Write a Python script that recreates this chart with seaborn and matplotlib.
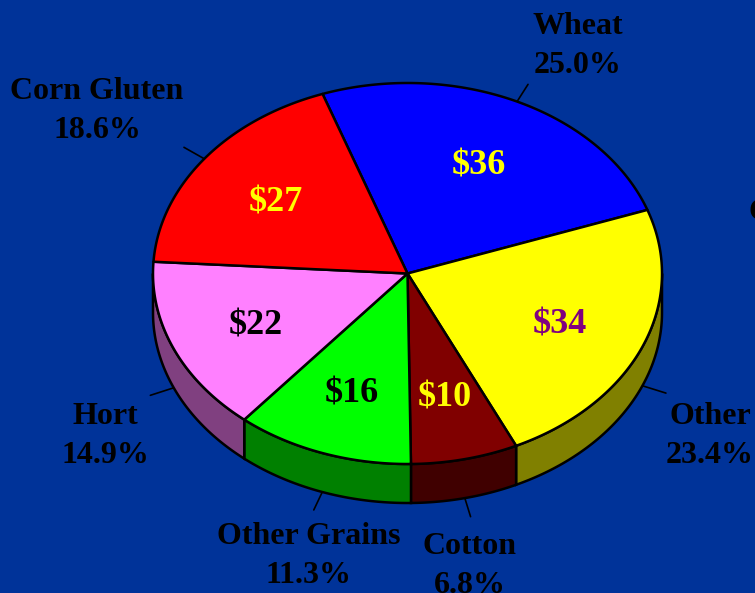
import numpy as np
import matplotlib
matplotlib.use("Agg")
import matplotlib.pyplot as plt
import seaborn as sns

# === Data ===
categories = ["Wheat", "Other", "Cotton", "Other Grains", "Hort", "Corn Gluten"]
percents = [25.0, 23.4, 6.8, 11.3, 14.9, 18.6]
dollars = [36, 34, 10, 16, 22, 27]

top_colors = ["#0000FF", "#FFFF00", "#800000", "#00FF00", "#FF80FF", "#FF0000"]
side_colors = ["#000080", "#808000", "#400000", "#008000", "#804080", "#800000"]
value_colors = ["#FFFF00", "#800080", "#FFFF00", "#000000", "#000000", "#FFFF00"]

# label block centres (pixels)
label_pos = [(578, 46), (710, 436), (470, 566), (309, 556), (105, 436), (97, 111)]

sns.set_theme(style="white")
plt.rcParams["font.family"] = ["Liberation Serif", "DejaVu Serif"]

BG = "#003399"
cx, cy = 407.5, 273.5      # centre of top face
ra, rb = 254.5, 190.5      # ellipse radii
depth = 39
start = 109.5              # angle where the first slice starts

def pt(t, k=1.0, dz=0.0):
    r = np.radians(t)
    return cx + k * ra * np.cos(r), cy - k * rb * np.sin(r) + dz

fig = plt.figure(figsize=(7.55, 5.93), dpi=100, facecolor=BG)
ax = fig.add_axes([0, 0, 1, 1])
ax.set_facecolor(BG)
ax.set_xlim(0, 755)
ax.set_ylim(593, 0)
ax.axis("off")

# slice angles (clockwise)
bounds = [start]
for p in percents:
    bounds.append(bounds[-1] - p * 3.6)

# side walls (front half only)
for i in range(len(percents)):
    hi, lo = bounds[i], bounds[i + 1]
    for shift in (0, 360):
        h = min(hi + shift, 0)
        l = max(lo + shift, -180)
        if h <= l:
            continue
        ts = np.linspace(h, l, 80)
        xs, ys = pt(ts)
        xb, yb = pt(ts[::-1], dz=depth)
        ax.fill(np.r_[xs, xb], np.r_[ys, yb], facecolor=side_colors[i],
                edgecolor="black", lw=1.8, zorder=1)

# top faces
for i in range(len(percents)):
    ts = np.linspace(bounds[i], bounds[i + 1], 120)
    xs, ys = pt(ts)
    ax.fill(np.r_[cx, xs], np.r_[cy, ys], facecolor=top_colors[i],
            edgecolor="black", lw=1.8, zorder=2, joinstyle="round")

# value labels and outer labels
for i, name in enumerate(categories):
    mid = (bounds[i] + bounds[i + 1]) / 2
    x, y = pt(mid, 0.65)
    ax.text(x, y + 4, f"${dollars[i]}", ha="center", va="center", fontsize=26,
            fontweight="bold", color=value_colors[i], zorder=3)

    dz = depth if np.sin(np.radians(mid)) < 0 else 0
    x0, y0 = pt(mid, 1.0, dz)
    x1, y1 = pt(mid, 1.1, dz)
    ax.plot([x0, x1], [y0, y1], color="black", lw=1.2, zorder=0)

    lx, ly = label_pos[i]
    ax.text(lx, ly, f"{name}\n{percents[i]:.1f}%", ha="center", va="center",
            fontsize=23, fontweight="bold", color="black", linespacing=1.42)

# clipped text at the right edge
ax.text(748, 213, "C", ha="left", va="center", fontsize=23,
        fontweight="bold", color="black")

fig.savefig("out.png", dpi=100, facecolor=BG)
